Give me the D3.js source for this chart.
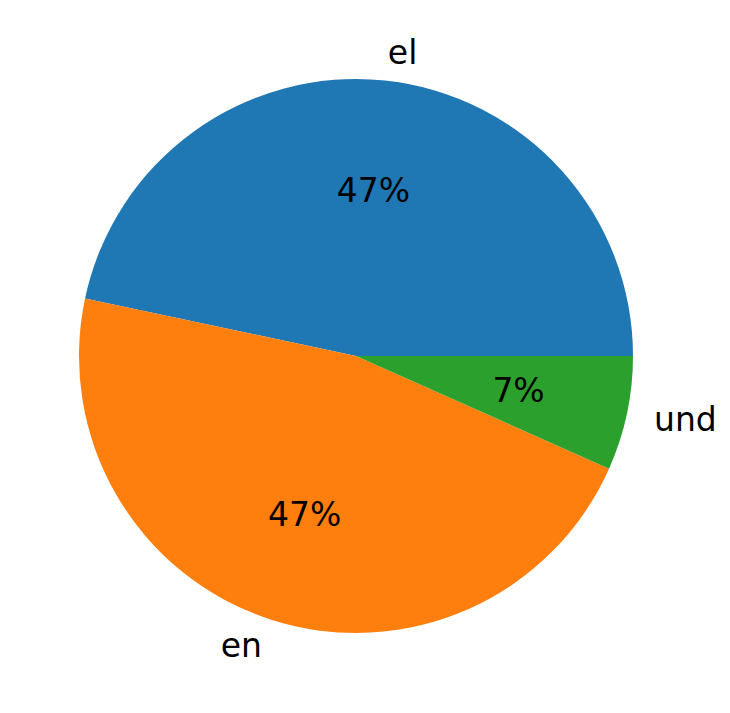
<!DOCTYPE html>
<html>
<head>
<meta charset="utf-8">
<script src="https://cdn.jsdelivr.net/npm/d3@7"></script>
<style>
  html, body { margin: 0; padding: 0; background: #fff; }
  svg text { font-family: "DejaVu Sans", sans-serif; }
</style>
</head>
<body>
<svg id="chart" width="730" height="713"></svg>
<script>
const categories = ["el", "en", "und"];
const values = [7, 7, 1];
const colors = ["#1f77b4", "#ff7f0e", "#2ca02c"];

const cx = 356, cy = 356, R = 277;
const fontSize = 33;

const svg = d3.select("#chart");
const g = svg.append("g").attr("transform", `translate(${cx},${cy})`);

const data = categories.map((c, i) => ({ label: c, value: values[i], color: colors[i] }));
const total = d3.sum(values);

// matplotlib: start at east (3 o'clock), counterclockwise
const pie = d3.pie().sort(null).value(d => d.value)
  .startAngle(Math.PI / 2).endAngle(Math.PI / 2 - 2 * Math.PI);
const arcs = pie(data);

const arc = d3.arc().innerRadius(0).outerRadius(R);

g.selectAll("path").data(arcs).enter().append("path")
  .attr("d", arc)
  .attr("fill", d => d.data.color);

function pos(a, r) { return [r * Math.sin(a), -r * Math.cos(a)]; }

arcs.forEach(d => {
  const mid = (d.startAngle + d.endAngle) / 2;
  const [lx, ly] = pos(mid, R * 1.1);
  g.append("text")
    .attr("x", lx).attr("y", ly)
    .attr("text-anchor", lx > 0 ? "start" : "end")
    .attr("dominant-baseline", "central")
    .attr("font-size", fontSize)
    .attr("fill", "#000")
    .text(d.data.label);
  const [px, py] = pos(mid, R * 0.6);
  g.append("text")
    .attr("x", px).attr("y", py)
    .attr("text-anchor", "middle")
    .attr("dominant-baseline", "central")
    .attr("font-size", fontSize)
    .attr("fill", "#000")
    .text(Math.round(d.data.value / total * 100) + "%");
});
</script>
</body>
</html>
